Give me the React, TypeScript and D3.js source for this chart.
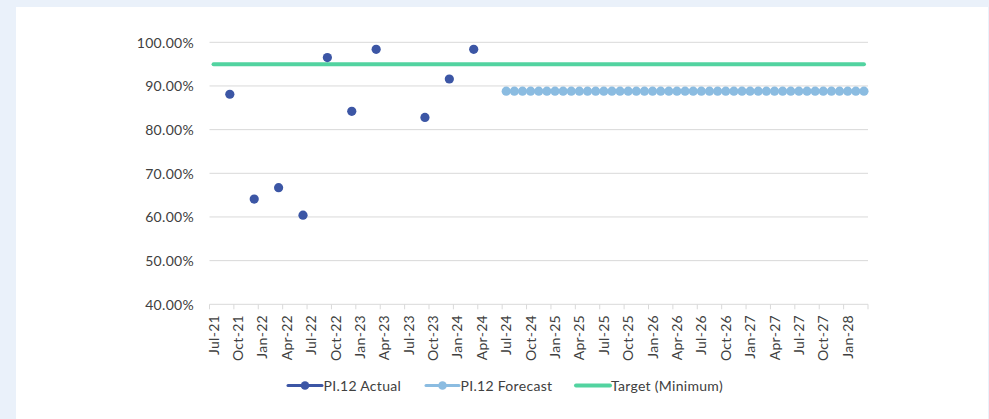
import React from "react";
import * as d3 from "d3";

// ---- data ----
const axisStart = new Date(2021, 6, 1); // Jul-21
const axisEnd = new Date(2028, 3, 1); // exclusive: Apr-28
const yTicks = [40, 50, 60, 70, 80, 90, 100];

const actualMonths = ["Sep-21", "Dec-21", "Mar-22", "Jun-22", "Sep-22", "Dec-22", "Mar-23", "Sep-23", "Dec-23", "Mar-24"];
const actualValues = [88.1, 64.1, 66.7, 60.4, 96.5, 84.2, 98.4, 82.8, 91.6, 98.4];

const forecastStart = "Jul-24";
const forecastValues = [
  88.8, 88.8, 88.8, 88.8, 88.8, 88.8, 88.8, 88.8, 88.8, 88.8,
  88.8, 88.8, 88.8, 88.8, 88.8, 88.8, 88.8, 88.8, 88.8, 88.8,
  88.8, 88.8, 88.8, 88.8, 88.8, 88.8, 88.8, 88.8, 88.8, 88.8,
  88.8, 88.8, 88.8, 88.8, 88.8, 88.8, 88.8, 88.8, 88.8, 88.8,
  88.8, 88.8, 88.8, 88.8, 88.8,
];

const targetMonths = ["Jul-21", "Mar-28"];
const targetValues = [95, 95];

const legendItems = [
  { label: "PI.12 Actual", key: "actual" },
  { label: "PI.12 Forecast", key: "forecast" },
  { label: "Target (Minimum)", key: "target" },
];

// ---- styles ----
const W = 989;
const H = 419;
const C_ACTUAL = "#3C56A5";
const C_FORECAST = "#8BBCE1";
const C_TARGET = "#52D3A0";
const C_GRID = "#D9D9D9";
const C_TEXT = "#404040";
const FONT = "Lato, 'Open Sans', sans-serif";
const FS = 14;
const LS = 0.3;

export default function App() {
  const fmt = d3.timeFormat("%b-%y");
  const months = d3.timeMonth.range(axisStart, axisEnd).map((d) => fmt(d));
  const x = d3.scaleBand<string>().domain(months).range([209.5, 868]).padding(0);
  const bw = x.bandwidth();
  const cx = (m: string) => (x(m) as number) + bw / 2;
  const y = d3.scaleLinear().domain([40, 100]).range([304.3, 42.3]);

  const fIdx = months.indexOf(forecastStart);
  const forecastMonths = forecastValues.map((_, i) => months[fIdx + i]);

  const tickMonths = months.filter((_, i) => i % 3 === 0);
  const tickXs = [...tickMonths.map((m) => x(m) as number), x.range()[1]];

  const line = d3
    .line<[string, number]>()
    .x((d) => cx(d[0]))
    .y((d) => y(d[1]));

  const targetPath = line(targetMonths.map((m, i) => [m, targetValues[i]] as [string, number])) || "";

  const legendPos = [
    { x0: 288, x1: 322, tx: 323.5 },
    { x0: 426, x1: 459, tx: 460.5 },
    { x0: 576, x1: 610, tx: 611 },
  ];
  const legendY = 385.5;

  return (
    <div style={{ position: "fixed", left: 0, top: 0, width: W, height: H }}>
      <svg width={W} height={H} style={{ display: "block" }} fontFamily={FONT}>
        <rect x={0} y={0} width={W} height={H} fill="#EAF1FA" />
        <rect x={16} y={7} width={972} height={H - 7} fill="#FFFFFF" />

        {/* gridlines */}
        {yTicks.map((t) => (
          <line key={t} x1={209.5} x2={868} y1={y(t)} y2={y(t)} stroke={C_GRID} strokeWidth={1} />
        ))}
        {/* y labels */}
        {yTicks.map((t) => (
          <text
            key={"l" + t}
            x={194}
            y={y(t)}
            textAnchor="end"
            dominantBaseline="central"
            fontSize={FS}
            fill={C_TEXT}
            letterSpacing={LS}
          >
            {d3.format(".2f")(t) + "%"}
          </text>
        ))}

        {/* x tick marks */}
        {tickXs.map((tx, i) => (
          <line key={"t" + i} x1={tx} x2={tx} y1={y(40)} y2={y(40) + 5} stroke={C_GRID} strokeWidth={1} />
        ))}
        {/* x labels */}
        {tickMonths.map((m) => (
          <text
            key={"x" + m}
            transform={`translate(${cx(m) - 0.5},${315}) rotate(-90)`}
            textAnchor="end"
            dominantBaseline="central"
            fontSize={FS}
            fill={C_TEXT}
            letterSpacing={LS}
          >
            {m}
          </text>
        ))}

        {/* target line */}
        <path d={targetPath} fill="none" stroke={C_TARGET} strokeWidth={4} strokeLinecap="round" />

        {/* forecast */}
        {forecastMonths.map((m, i) => (
          <circle key={"f" + i} cx={cx(m)} cy={y(forecastValues[i])} r={4.6} fill={C_FORECAST} />
        ))}

        {/* actual */}
        {actualMonths.map((m, i) => (
          <circle key={"a" + i} cx={cx(m)} cy={y(actualValues[i])} r={4.6} fill={C_ACTUAL} />
        ))}

        {/* legend */}
        {legendItems.map((it, i) => {
          const p = legendPos[i];
          const col = it.key === "actual" ? C_ACTUAL : it.key === "forecast" ? C_FORECAST : C_TARGET;
          return (
            <g key={it.key}>
              <line
                x1={p.x0}
                x2={p.x1}
                y1={legendY}
                y2={legendY}
                stroke={col}
                strokeWidth={it.key === "target" ? 4 : 3}
                strokeLinecap="round"
              />
              {it.key !== "target" && <circle cx={(p.x0 + p.x1) / 2} cy={legendY} r={4.3} fill={col} />}
              <text
                x={p.tx}
                y={legendY}
                dominantBaseline="central"
                fontSize={FS}
                fill={C_TEXT}
                letterSpacing={LS}
              >
                {it.label}
              </text>
            </g>
          );
        })}
      </svg>
    </div>
  );
}
